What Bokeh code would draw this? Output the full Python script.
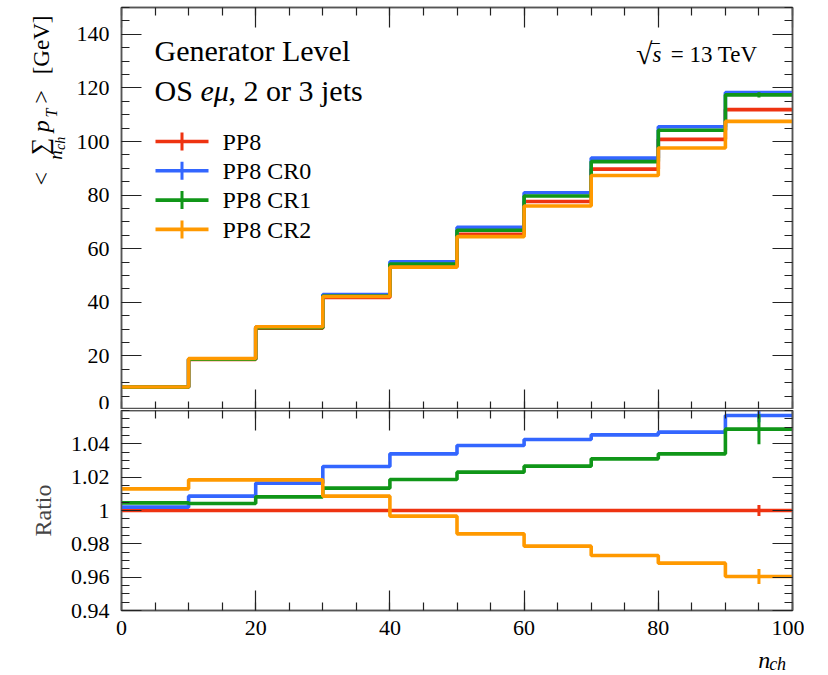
import math
from bokeh.plotting import figure
from bokeh.layouts import column, row
from bokeh.models import (LinearAxis, FixedTicker, CustomJSTickFormatter, Label, Range1d)
from bokeh.embed import file_html
from bokeh.resources import INLINE

# ---------------- data ----------------
bin_edges = [0, 10, 20, 30, 40, 50, 60, 70, 80, 90, 100]
series_labels = ["PP8", "PP8 CR0", "PP8 CR1", "PP8 CR2"]
series_colors = ["#EE3311", "#3366FF", "#109618", "#FF9900"]

pp8 = [8.3, 18.7, 30.3, 41.8, 53.3, 65.4, 77.6, 89.7, 100.8, 111.9]
cr0 = [8.32, 18.86, 30.8, 42.9, 55.1, 67.95, 80.9, 93.8, 105.5, 118.3]
cr1 = [8.34, 18.78, 30.55, 42.36, 54.3, 66.9, 79.66, 92.5, 104.2, 117.4]
cr2 = [8.41, 19.04, 30.86, 42.16, 53.12, 64.5, 75.94, 87.3, 97.6, 107.5]

err_pp8 = [0, 0, 0, 0, 0, 0, 0, 0, 0, 0.4]
err_cr0 = [0, 0, 0, 0, 0, 0, 0, 0, 0, 0.4]
err_cr1 = [0, 0, 0, 0, 0, 0, 0, 0, 0, 1.0]
err_cr2 = [0, 0, 0, 0, 0, 0, 0, 0, 0, 0.5]

ratio_pp8 = [1.0, 1.0, 1.0, 1.0, 1.0, 1.0, 1.0, 1.0, 1.0, 1.0]
ratio_cr0 = [1.002, 1.0086, 1.0164, 1.0264, 1.034, 1.039, 1.0426, 1.0454, 1.047, 1.057]
ratio_cr1 = [1.0046, 1.0042, 1.0082, 1.0134, 1.0186, 1.023, 1.0266, 1.031, 1.034, 1.0488]
ratio_cr2 = [1.013, 1.0184, 1.0184, 1.0086, 0.9966, 0.986, 0.9786, 0.973, 0.9684, 0.9604]

rerr_pp8 = [0, 0, 0, 0, 0, 0, 0, 0, 0, 0.0033]
rerr_cr0 = [0, 0, 0, 0, 0, 0, 0, 0, 0, 0.004]
rerr_cr1 = [0, 0, 0, 0, 0, 0, 0, 0, 0, 0.009]
rerr_cr2 = [0, 0, 0, 0, 0, 0, 0, 0, 0, 0.0045]

x_major = [0, 20, 40, 60, 80, 100]
y_major_top = [0, 20, 40, 60, 80, 100, 120, 140]
y_major_ratio = [0.94, 0.96, 0.98, 1.0, 1.02, 1.04]

main_vals = [pp8, cr0, cr1, cr2]
main_errs = [err_pp8, err_cr0, err_cr1, err_cr2]
ratio_vals = [ratio_pp8, ratio_cr0, ratio_cr1, ratio_cr2]
ratio_errs = [rerr_pp8, rerr_cr0, rerr_cr1, rerr_cr2]

# ---------------- style ----------------
FONT = "Liberation Serif"
LW = 3.6
YLAB_W = 70                        # width of the text strip left of the upper panel
FRAME_L, FRAME_T = 122, 8          # page position of the upper frame
FRAME_W, TOP_H, RAT_H = 671, 402, 200
RIGHT_B = 12
RAT_BOTTOM = 35
XLAB_H = 29
X0, X1 = 0, 100
YT0, YT1 = 0, 150
YR0, YR1 = 0.94, 1.06
RAT_TOP = FRAME_T + TOP_H          # page y where the ratio figure starts
XLAB_TOP = RAT_TOP + RAT_H + RAT_BOTTOM
TOTAL_W = FRAME_L - 1 + FRAME_W + RIGHT_B
BASE_SHIFT = 0.32                  # em offset of the rendered alphabetic baseline

x_minor = [5 * i for i in range(21)]
y_minor_top = [5 * i for i in range(31)]
y_minor_ratio = [round(0.94 + 0.005 * i, 4) for i in range(25)]


def style_axis(ax, labels=True):
    ax.major_tick_in = 20
    ax.major_tick_out = 0
    ax.minor_tick_in = 8
    ax.minor_tick_out = 0
    ax.major_tick_line_color = "#222222"
    ax.minor_tick_line_color = "#222222"
    ax.major_tick_line_width = 1.2
    ax.minor_tick_line_width = 1.2
    ax.axis_line_color = "#555555"
    ax.axis_line_width = 1.5
    ax.major_label_text_font = FONT
    if labels:
        ax.major_label_text_color = "#000000"
        ax.major_label_text_font_size = "22px"
        ax.major_label_standoff = 12
    else:
        ax.major_label_text_color = None
        ax.major_label_text_font_size = "0px"
        ax.major_label_standoff = 0


def make_fig(fh, y0, y1, left_b, top_b, bottom_b):
    p = figure(frame_width=FRAME_W, frame_height=fh,
               x_range=Range1d(X0, X1), y_range=Range1d(y0, y1),
               output_backend="svg", toolbar_location=None,
               min_border_left=left_b, min_border_right=RIGHT_B,
               min_border_top=top_b, min_border_bottom=bottom_b,
               background_fill_color="white", border_fill_color="white")
    p.xgrid.visible = False
    p.ygrid.visible = False
    p.outline_line_color = "#555555"
    p.outline_line_width = 1.5
    return p


def text_fig(w, h):
    p = figure(width=w, height=h, x_range=Range1d(0, w), y_range=Range1d(h, 0),
               x_axis_type=None, y_axis_type=None, output_backend="svg",
               toolbar_location=None, min_border=0, outline_line_color=None,
               background_fill_color="white", border_fill_color="white")
    p.xgrid.visible = False
    p.ygrid.visible = False
    return p


centers = [(a + b) / 2 for a, b in zip(bin_edges[:-1], bin_edges[1:])]


def draw_series(p, vals_list, errs_list):
    for vals, errs, col in zip(vals_list, errs_list, series_colors):
        ys = list(vals) + [vals[-1]]
        p.step(bin_edges, ys, mode="after", line_color=col, line_width=LW)
        idx = [i for i, e in enumerate(errs) if e > 0]
        p.segment(x0=[centers[i] for i in idx], x1=[centers[i] for i in idx],
                  y0=[vals[i] - errs[i] for i in idx], y1=[vals[i] + errs[i] for i in idx],
                  line_color=col, line_width=LW - 0.6)


def add_mirrors(p, xt, yt):
    a = LinearAxis(ticker=xt)
    style_axis(a, labels=False)
    p.add_layout(a, "above")
    r = LinearAxis(ticker=yt)
    style_axis(r, labels=False)
    p.add_layout(r, "right")


def ux(px):
    return X0 + (px - FRAME_L) / FRAME_W * (X1 - X0)


def uy(py):
    return YT0 + (FRAME_T + TOP_H - py) / TOP_H * (YT1 - YT0)


def ident(v):
    return v


def add_text(p, fx, fy, px, py, txt, size, style="normal", align="left", rotated=False):
    """px, py: wanted page position of the baseline start."""
    if rotated:
        px = px - BASE_SHIFT * size
    else:
        py = py - BASE_SHIFT * size
    p.add_layout(Label(x=fx(px), y=fy(py), text=txt, text_font=FONT,
                       text_font_size=f"{size}px", text_font_style=style,
                       text_align=align, text_baseline="alphabetic",
                       angle=math.pi / 2 if rotated else 0, text_color="black"))


# ---------------- upper panel ----------------
top = make_fig(TOP_H, YT0, YT1, FRAME_L - 1 - YLAB_W, FRAME_T - 1, 0)
xt = FixedTicker(ticks=x_major, minor_ticks=x_minor)
ytt = FixedTicker(ticks=y_major_top, minor_ticks=y_minor_top)
top.xaxis.ticker = xt
top.yaxis.ticker = ytt
style_axis(top.xaxis[0], labels=False)
style_axis(top.yaxis[0], labels=True)
add_mirrors(top, xt, ytt)

draw_series(top, main_vals, main_errs)

# legend drawn inside the frame
for i, (lab, col) in enumerate(zip(series_labels, series_colors)):
    cy = 142 + 29.3 * i
    top.segment(x0=[ux(156)], x1=[ux(209)], y0=[uy(cy)], y1=[uy(cy)],
                line_color=col, line_width=LW)
    top.segment(x0=[ux(182.5)], x1=[ux(182.5)], y0=[uy(cy - 9)], y1=[uy(cy + 9)],
                line_color=col, line_width=LW - 0.6)
    add_text(top, ux, uy, 223, cy + 8, lab, 24)

add_text(top, ux, uy, 155, 61, "Generator Level", 30)
add_text(top, ux, uy, 155, 101, "OS ", 30)
add_text(top, ux, uy, 201, 101, "e\u03bc", 30, style="italic")
add_text(top, ux, uy, 229, 101, ", 2 or 3 jets", 30)
add_text(top, ux, uy, 758, 62, "= 13 TeV", 23, align="right")
add_text(top, ux, uy, 653, 64, "\u221a", 30, align="right")
add_text(top, ux, uy, 653, 62, "s", 23, style="italic")
add_text(top, ux, uy, 652, 62, "\u203e", 23)

# text strip left of the upper panel: rotated y-axis title
ylab = text_fig(YLAB_W, FRAME_T + TOP_H)
add_text(ylab, ident, ident, 48, 181, "<", 24, rotated=True)
add_text(ylab, ident, ident, 47, 150, "\u2211", 24, rotated=True)
add_text(ylab, ident, ident, 61, 155, "n", 19, style="italic", rotated=True)
add_text(ylab, ident, ident, 64, 145, "ch", 14, style="italic", rotated=True)
add_text(ylab, ident, ident, 48, 127, "p", 24, style="italic", rotated=True)
add_text(ylab, ident, ident, 56, 112, "T", 16, style="italic", rotated=True)
add_text(ylab, ident, ident, 48, 98, ">", 24, rotated=True)
add_text(ylab, ident, ident, 48, 68, "[GeV]", 23, rotated=True)

# ---------------- ratio panel ----------------
rat = make_fig(RAT_H, YR0, YR1, FRAME_L - 1, 0, RAT_BOTTOM)
xr = FixedTicker(ticks=x_major, minor_ticks=x_minor)
yrt = FixedTicker(ticks=y_major_ratio, minor_ticks=y_minor_ratio)
rat.xaxis.ticker = xr
rat.yaxis.ticker = yrt
style_axis(rat.xaxis[0], labels=True)
rat.xaxis.major_label_standoff = 10
style_axis(rat.yaxis[0], labels=True)
rat.yaxis.formatter = CustomJSTickFormatter(code="return String(parseFloat(tick.toFixed(2)));")
rat.yaxis.axis_label = "Ratio"
rat.yaxis.axis_label_text_font = FONT
rat.yaxis.axis_label_text_font_style = "normal"
rat.yaxis.axis_label_text_font_size = "24px"
rat.yaxis.axis_label_standoff = 12
add_mirrors(rat, xr, yrt)

draw_series(rat, ratio_vals, ratio_errs)

# text strip below the ratio panel: x-axis title
xlab = text_fig(TOTAL_W, XLAB_H)


def xl_y(py):
    return py - XLAB_TOP


add_text(xlab, ident, xl_y, 763, 667, "n", 24, style="italic")
add_text(xlab, ident, xl_y, 776, 669.5, "ch", 18, style="italic")

layout = column(row(ylab, top, spacing=0), rat, xlab, spacing=0)
open("out.html", "w").write(file_html(layout, INLINE))
